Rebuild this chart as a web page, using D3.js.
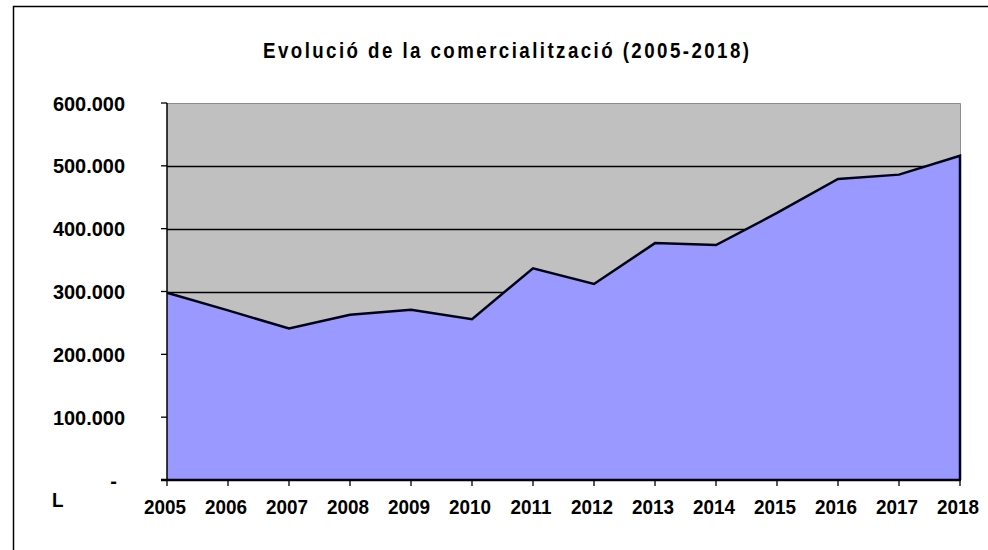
<!DOCTYPE html>
<html>
<head>
<meta charset="utf-8">
<script src="https://cdn.jsdelivr.net/npm/d3@7"></script>
<style>
  html, body { margin: 0; padding: 0; background: #fff; }
  svg { display: block; }
  text { font-family: "Liberation Sans", Arial, sans-serif; font-weight: bold; fill: #000; }
</style>
</head>
<body>
<svg id="chart" width="988" height="550"></svg>
<script>
// chart data
const years = [2005, 2006, 2007, 2008, 2009, 2010, 2011, 2012, 2013, 2014, 2015, 2016, 2017, 2018];
const litres = [298000, 270000, 241000, 263000, 271000, 256000, 337000, 312000, 377000, 374000, 425000, 479000, 486000, 516000];
const yTicks = [0, 100000, 200000, 300000, 400000, 500000, 600000];
const title = "Evolució de la comercialització  (2005-2018)";
const unitLabel = "L";

const svg = d3.select("#chart");
const plotL = 167, plotR = 960, plotT = 103, plotB = 480;

const x = d3.scalePoint().domain(years).range([plotL, plotR]);
const y = d3.scaleLinear().domain([0, 600000]).range([plotB, plotT]);

function fmt(v) {
  if (v === 0) return "-";
  return d3.format(",")(v).replace(/,/g, ".");
}

// outer chart border (only left + top visible in the frame)
svg.append("path")
  .attr("d", "M13.5,560 L13.5,6.5 L1000,6.5")
  .attr("fill", "none")
  .attr("stroke", "#000")
  .attr("stroke-width", 1.5);

// title (condensed like the original)
const titleScale = 0.85;
svg.append("text")
  .attr("transform", `translate(506,58) scale(${titleScale},1)`)
  .attr("text-anchor", "middle")
  .attr("font-size", 22)
  .attr("textLength", 486 / titleScale)
  .attr("lengthAdjust", "spacing")
  .text(title);

// plot background
svg.append("rect")
  .attr("x", plotL).attr("y", plotT)
  .attr("width", plotR - plotL).attr("height", plotB - plotT)
  .attr("fill", "#c0c0c0");
svg.append("path")
  .attr("d", `M${plotL},${plotT + 0.5} L${plotR + 0.5},${plotT + 0.5} L${plotR + 0.5},${plotB}`)
  .attr("fill", "none")
  .attr("stroke", "#8c8c8c")
  .attr("stroke-width", 1);

// gridlines (under the area)
svg.append("g")
  .selectAll("line")
  .data(yTicks.filter(d => d > 0 && d < 600000))
  .join("line")
  .attr("x1", plotL).attr("x2", plotR)
  .attr("y1", d => Math.round(y(d)) + 0.5)
  .attr("y2", d => Math.round(y(d)) + 0.5)
  .attr("stroke", "#000")
  .attr("stroke-width", 1.3);

// area
const area = d3.area()
  .x((d, i) => x(years[i]))
  .y0(plotB)
  .y1(d => y(d));
svg.append("path")
  .datum(litres)
  .attr("d", area)
  .attr("fill", "#9999ff");

// outline along the top and down the right edge
const line = d3.line()
  .x((d, i) => x(years[i]))
  .y(d => y(d));
svg.append("path")
  .attr("d", line(litres) + `L${x(years[years.length - 1])},${plotB}`)
  .attr("fill", "none")
  .attr("stroke", "#000022")
  .attr("stroke-width", 2.5)
  .attr("stroke-linejoin", "miter");

// y axis
svg.append("line")
  .attr("x1", plotL).attr("x2", plotL)
  .attr("y1", plotT).attr("y2", plotB)
  .attr("stroke", "#000").attr("stroke-width", 1.5);
const yg = svg.append("g");
yg.selectAll("line")
  .data(yTicks)
  .join("line")
  .attr("x1", plotL - 6).attr("x2", plotL)
  .attr("y1", d => y(d)).attr("y2", d => y(d))
  .attr("stroke", "#000").attr("stroke-width", 1.3);
yg.selectAll("text")
  .data(yTicks)
  .join("text")
  .attr("transform", d => `translate(${d === 0 ? 117 : 125},${y(d) + 7.5}) scale(0.95,1)`)
  .attr("text-anchor", "end")
  .attr("font-size", 21)
  .text(fmt);

// x axis
svg.append("line")
  .attr("x1", plotL - 6).attr("x2", plotR + 1)
  .attr("y1", plotB).attr("y2", plotB)
  .attr("stroke", "#000").attr("stroke-width", 2.5);
const xg = svg.append("g");
xg.selectAll("line")
  .data(years)
  .join("line")
  .attr("x1", d => x(d)).attr("x2", d => x(d))
  .attr("y1", plotB).attr("y2", plotB + 6)
  .attr("stroke", "#000").attr("stroke-width", 1.3);
xg.selectAll("text")
  .data(years)
  .join("text")
  .attr("transform", d => `translate(${x(d) - 2},514) scale(0.9,1)`)
  .attr("text-anchor", "middle")
  .attr("font-size", 21)
  .text(d => d);

// unit label
svg.append("text")
  .attr("transform", "translate(52,507) scale(0.9,1)")
  .attr("font-size", 21)
  .text(unitLabel);
</script>
</body>
</html>
